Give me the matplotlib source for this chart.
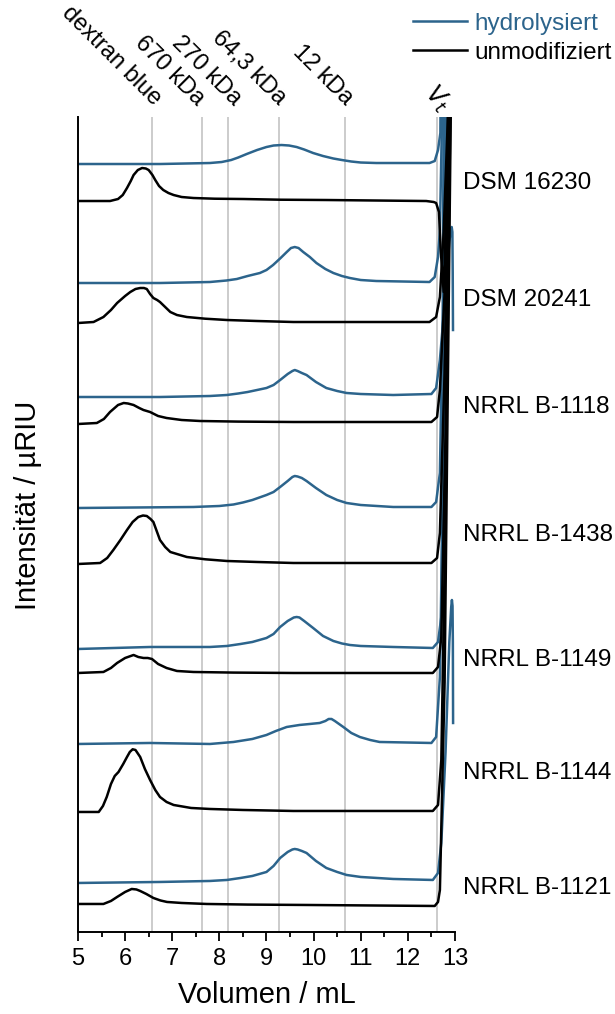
import matplotlib
matplotlib.use("Agg")
import matplotlib.pyplot as plt
from matplotlib.lines import Line2D
from matplotlib.transforms import blended_transform_factory

plt.rcParams['font.family'] = ['Liberation Sans', 'DejaVu Sans']

# ---------------- data ----------------
samples = ['DSM 16230', 'DSM 20241', 'NRRL B-1118', 'NRRL B-1438',
           'NRRL B-1149', 'NRRL B-1144', 'NRRL B-1121']
sample_label_y = [749, 632, 525, 397, 272, 159, 44]

marker_volumes = [6.58, 7.63, 8.19, 9.27, 10.67]
marker_labels = ['dextran blue', '670 kDa', '270 kDa', '64,3 kDa', '12 kDa']
vt_volume = 12.62

# hydrolysiert (blue) curves, stacked intensities (a.u.)
dsm16230_hyd_x = [5.0, 6.74, 7.80, 8.05, 8.25, 8.40, 8.58, 8.80, 9.00, 9.15, 9.32, 9.48, 9.64, 9.80, 9.99, 10.20, 10.42, 10.60, 10.80, 11.00, 11.33, 12.46, 12.57, 12.64, 12.69, 12.72]
dsm16230_hyd_y = [768, 768, 769, 770, 772, 774.5, 778, 782, 785, 786.5, 787, 786.5, 785, 782.5, 779, 776, 773.5, 772, 770.5, 769.5, 769, 769, 771, 782, 799, 1000]

dsm20241_hyd_x = [5.0, 6.74, 7.80, 8.15, 8.37, 8.60, 8.86, 9.00, 9.14, 9.30, 9.43, 9.52, 9.60, 9.68, 9.78, 9.92, 10.06, 10.25, 10.42, 10.60, 10.77, 11.00, 11.33, 12.46, 12.57, 12.64, 12.68, 12.72, 12.75]
dsm20241_hyd_y = [649, 649, 650, 651.5, 653, 656, 659, 662, 667, 674, 680, 684, 685, 684, 680, 675, 669, 663, 659, 656, 654, 652, 651, 650, 655, 675, 702, 800, 1000]

nrrl1118_hyd_x = [5.0, 6.74, 7.80, 8.16, 8.40, 8.60, 8.80, 9.00, 9.15, 9.29, 9.45, 9.55, 9.60, 9.66, 9.75, 9.85, 10.05, 10.27, 10.50, 10.70, 11.00, 11.69, 12.50, 12.60, 12.68, 12.80, 12.88, 12.91, 12.93, 12.945, 12.952, 12.958]
nrrl1118_hyd_y = [535, 535, 536, 537, 538.5, 540, 542, 544, 547, 552, 558, 561, 562, 561, 559, 557, 550, 544, 541, 539, 538, 537, 538, 544, 572, 640, 690, 702, 705, 700, 660, 602]

nrrl1438_hyd_x = [5.0, 7.45, 8.00, 8.30, 8.50, 8.70, 8.85, 9.00, 9.15, 9.29, 9.45, 9.55, 9.60, 9.66, 9.75, 9.85, 10.05, 10.27, 10.50, 10.70, 11.00, 11.69, 12.50, 12.60, 12.68, 12.74, 12.78]
nrrl1438_hyd_y = [424, 425, 426, 427.5, 429.5, 432, 434.5, 437, 440, 445, 451, 455, 456, 455.5, 454, 451, 444, 437, 432, 429, 427, 425, 425, 430, 459, 620, 1000]

nrrl1149_hyd_x = [5.0, 6.53, 7.80, 8.16, 8.45, 8.70, 8.85, 9.00, 9.15, 9.29, 9.45, 9.58, 9.64, 9.70, 9.80, 9.99, 10.20, 10.42, 10.60, 10.77, 11.00, 11.69, 12.53, 12.64, 12.71, 12.76, 12.80]
nrrl1149_hyd_y = [283, 285, 285, 286, 288, 290, 292, 294, 298, 305, 311, 314.5, 315, 314.5, 311, 304, 296, 291, 288.5, 287, 286, 285, 284, 290, 315, 550, 1000]

nrrl1144_hyd_x = [5.0, 6.53, 7.80, 8.05, 8.30, 8.50, 8.70, 8.85, 9.00, 9.20, 9.43, 9.70, 9.92, 10.13, 10.25, 10.32, 10.38, 10.45, 10.63, 10.80, 10.98, 11.20, 11.40, 12.50, 12.60, 12.68, 12.76, 12.84]
nrrl1144_hyd_y = [188, 189, 188, 189, 190, 191.5, 193, 195, 197, 201, 205, 207, 208, 209, 211, 213, 213, 211, 205, 199, 195, 192, 190, 189, 195, 255, 500, 1000]

nrrl1121_hyd_x = [5.0, 6.74, 7.80, 8.16, 8.45, 8.70, 8.85, 9.00, 9.15, 9.29, 9.45, 9.55, 9.60, 9.66, 9.75, 9.85, 10.05, 10.27, 10.50, 10.70, 11.00, 11.69, 12.53, 12.64, 12.71, 12.80, 12.88, 12.92, 12.935, 12.948, 12.955, 12.96]
nrrl1121_hyd_y = [49, 50, 51, 52, 54, 56, 58, 60, 66, 74, 80, 82.5, 83, 82.5, 81, 79, 71, 64, 60, 57, 55, 53, 52, 59, 89, 180, 290, 325, 332, 326, 290, 209]

# unmodifiziert (black) curves
dsm16230_unm_x = [5.0, 5.68, 5.85, 5.95, 6.04, 6.12, 6.18, 6.27, 6.36, 6.44, 6.50, 6.58, 6.64, 6.72, 6.81, 6.92, 7.03, 7.20, 7.45, 7.90, 8.51, 9.30, 10.27, 12.39, 12.55, 12.60, 12.66, 12.70, 12.76, 12.84, 12.90]
dsm16230_unm_y = [731, 731, 733, 737, 744, 751, 757, 762, 764, 763.5, 762, 757, 752, 746, 742, 739, 737, 735, 734, 733.3, 733, 732.3, 732, 731, 730, 729, 720, 680, 640, 760, 1000]

dsm20241_unm_x = [5.0, 5.33, 5.54, 5.70, 5.83, 6.00, 6.11, 6.22, 6.32, 6.40, 6.46, 6.53, 6.60, 6.68, 6.74, 6.85, 6.96, 7.10, 7.31, 7.70, 8.16, 8.80, 9.57, 12.46, 12.60, 12.68, 12.76, 12.85, 12.88]
dsm20241_unm_y = [609, 610, 615, 622, 629, 636, 640, 643, 644, 644, 643, 638, 634, 632, 630, 625, 620, 617, 615, 613.3, 612, 611, 610, 610, 615, 635, 700, 815, 1000]

nrrl1118_unm_x = [5.0, 5.40, 5.55, 5.68, 5.85, 5.97, 6.06, 6.18, 6.30, 6.39, 6.53, 6.70, 6.88, 7.20, 7.59, 8.40, 9.57, 12.50, 12.62, 12.68, 12.78, 12.87, 12.90]
nrrl1118_unm_y = [508, 509, 513, 520, 527, 529, 528.5, 527, 524, 522, 520, 516, 514, 512, 511, 510.4, 510, 510, 515, 542, 640, 815, 1000]

nrrl1438_unm_x = [5.0, 5.47, 5.62, 5.75, 5.90, 6.04, 6.16, 6.28, 6.38, 6.46, 6.54, 6.60, 6.67, 6.74, 6.85, 6.96, 7.31, 7.70, 8.16, 8.80, 9.57, 12.50, 12.62, 12.68, 12.78, 12.88, 12.91]
nrrl1438_unm_y = [368, 369, 374, 382, 392, 402, 410, 415, 416.5, 416, 413, 410, 401, 392, 385, 380, 375, 372.7, 371, 370, 369, 369, 374, 399, 560, 815, 1000]

nrrl1149_unm_x = [5.0, 5.54, 5.70, 5.83, 6.00, 6.18, 6.28, 6.39, 6.48, 6.57, 6.70, 6.88, 7.10, 7.45, 8.30, 9.57, 12.53, 12.64, 12.71, 12.80, 12.89, 12.92]
nrrl1149_unm_y = [259, 260, 264, 269, 274, 277, 275, 274, 274, 273, 268, 264, 261, 260, 259.4, 259, 259, 265, 295, 500, 815, 1000]

nrrl1144_unm_x = [5.0, 5.44, 5.53, 5.61, 5.70, 5.78, 5.86, 5.96, 6.04, 6.10, 6.16, 6.22, 6.32, 6.42, 6.53, 6.64, 6.74, 6.88, 7.03, 7.40, 7.80, 8.50, 9.57, 12.53, 12.64, 12.71, 12.80, 12.90, 12.93]
nrrl1144_unm_y = [120, 120, 126, 135, 148, 156, 160, 168, 175, 180, 182.7, 182, 175, 163, 152, 142, 135, 130, 127, 124, 123, 122, 121, 121, 127, 172, 420, 815, 1000]

nrrl1121_unm_x = [5.0, 5.54, 5.70, 5.83, 6.00, 6.14, 6.24, 6.32, 6.45, 6.60, 6.75, 6.89, 7.20, 7.73, 8.60, 9.85, 12.57, 12.64, 12.68, 12.78, 12.91, 12.94]
nrrl1121_unm_y = [28, 28, 31, 35, 40, 43, 42.5, 41, 38, 34, 31.5, 30, 29, 28, 27.4, 27, 26, 30, 42, 250, 815, 1000]

hyd_curves = [(dsm16230_hyd_x, dsm16230_hyd_y), (dsm20241_hyd_x, dsm20241_hyd_y),
              (nrrl1118_hyd_x, nrrl1118_hyd_y), (nrrl1438_hyd_x, nrrl1438_hyd_y),
              (nrrl1149_hyd_x, nrrl1149_hyd_y), (nrrl1144_hyd_x, nrrl1144_hyd_y),
              (nrrl1121_hyd_x, nrrl1121_hyd_y)]
unm_curves = [(dsm16230_unm_x, dsm16230_unm_y), (dsm20241_unm_x, dsm20241_unm_y),
              (nrrl1118_unm_x, nrrl1118_unm_y), (nrrl1438_unm_x, nrrl1438_unm_y),
              (nrrl1149_unm_x, nrrl1149_unm_y), (nrrl1144_unm_x, nrrl1144_unm_y),
              (nrrl1121_unm_x, nrrl1121_unm_y)]

# ---------------- styling ----------------
BLUE = '#2c648c'
GRID = '#c8c8c8'
LW = 1.8

fig = plt.figure(figsize=(6.15, 10.14), dpi=100)
ax = fig.add_axes([0.1268, 0.0809, 0.6130, 0.8037])

for v in marker_volumes + [vt_volume]:
    ax.axvline(v, color=GRID, lw=1.3, zorder=0)

for (x, y) in unm_curves:
    ax.plot(x, y, color='black', lw=LW, solid_joinstyle='round', zorder=3)
for (x, y) in hyd_curves:
    ax.plot(x, y, color=BLUE, lw=LW, solid_joinstyle='round', zorder=2)

ax.set_xlim(5, 13)
ax.set_ylim(0, 815)
ax.set_xticks(range(5, 14))
ax.set_xticks([v + 0.5 for v in range(5, 13)], minor=True)
ax.set_yticks([])
ax.tick_params(axis='x', which='major', length=6.5, width=1.3, labelsize=17, pad=5)
ax.tick_params(axis='x', which='minor', length=3.5, width=1.3)
for s in ['top', 'right']:
    ax.spines[s].set_visible(False)
for s in ['left', 'bottom']:
    ax.spines[s].set_linewidth(1.4)

ax.set_xlabel('Volumen / mL', fontsize=21, labelpad=8)
ax.set_ylabel('Intensität / µRIU', fontsize=21)
ax.yaxis.set_label_coords(-0.0955, 0.523)

# marker labels at the top, rotated
trans = blended_transform_factory(ax.transData, ax.transAxes)
label_right = [6.85, 7.76, 8.55, 9.50, 10.92]
for lab, xr in zip(marker_labels, label_right):
    ax.text(xr, 1.009, lab, rotation=-45, ha='right', va='bottom',
            fontsize=17, transform=trans, clip_on=False)
ax.text(13.02, 1.0, r'$V_t$', rotation=-45, ha='right', va='bottom',
        fontsize=17.5, transform=trans, clip_on=False)

# sample labels on the right
for name, yl in zip(samples, sample_label_y):
    ax.text(13.16, yl, name, ha='left', va='center', fontsize=17.5, clip_on=False)

# legend
handles = [Line2D([], [], color=BLUE, lw=LW), Line2D([], [], color='black', lw=LW)]
fig.legend(handles, ['hydrolysiert', 'unmodifiziert'], loc='upper left',
           bbox_to_anchor=(0.667, 0.990), frameon=False, fontsize=17.5,
           handlelength=2.25, handletextpad=0.3, labelspacing=0.3,
           borderaxespad=0.0, borderpad=0.1, labelcolor=[BLUE, 'black'])

fig.savefig('out.png', dpi=100)
